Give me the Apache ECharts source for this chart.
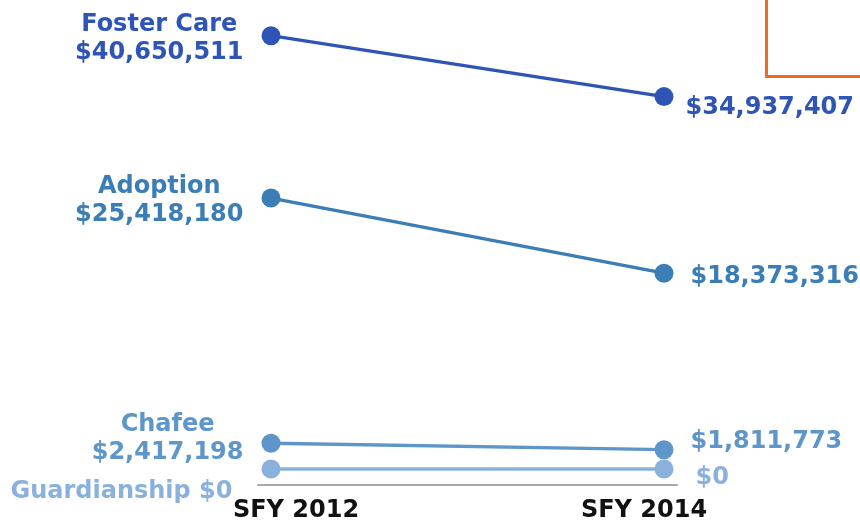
<!DOCTYPE html>
<html>
<head>
<meta charset="utf-8">
<script src="https://cdn.jsdelivr.net/npm/echarts@6/dist/echarts.min.js"></script>
<style>
html,body{margin:0;padding:0;background:#fff;}
#chart{width:860px;height:520px;}
</style>
</head>
<body>
<div id="chart"></div>
<script>
// ---- data ----
const categories = ['SFY 2012', 'SFY 2014'];
const seriesNames = ['Foster Care', 'Adoption', 'Chafee', 'Guardianship'];
const values2012 = [40650511, 25418180, 2417198, 0];
const values2014 = [34937407, 18373316, 1811773, 0];

// ---- styles ----
const colors = ['#2e54b6', '#3b7db5', '#5e96c9', '#8ab1dd'];
const FONT = '"DejaVu Sans", Verdana, sans-serif';
const FS = 24;
// per-series label tweaks [dx, dy]
const leftTweak = [[0, 3], [0, 3], [0, -4], [-11, 23]];
const rightTweak = [[0, 11], [5, 4], [5, -8], [10, 9]];

function money(v) {
  return '$' + v.toLocaleString('en-US');
}
const cv = document.createElement('canvas').getContext('2d');
cv.font = 'bold ' + FS + 'px ' + FONT;
function textW(s) {
  return Math.max.apply(null, s.split('\n').map(l => cv.measureText(l).width));
}

const series = seriesNames.map((name, i) => {
  const leftText = values2012[i] === 0 ? name + ' ' + money(values2012[i]) : name + '\n' + money(values2012[i]);
  const w = textW(leftText);
  return {
    name: name,
    type: 'line',
    symbol: 'circle',
    symbolSize: 19,
    lineStyle: { width: 3.3, color: colors[i] },
    itemStyle: { color: colors[i], borderWidth: 0 },
    emphasis: { disabled: true },
    z: 2 + i,
    label: {
      show: true,
      fontFamily: FONT,
      fontWeight: 'bold',
      fontSize: FS,
      lineHeight: 28,
      color: colors[i]
    },
    data: [
      {
        value: [0, values2012[i]],
        label: {
          position: 'left',
          distance: 18,
          align: 'center',
          offset: [-w / 2 + leftTweak[i][0], leftTweak[i][1]],
          formatter: leftText
        }
      },
      {
        value: [1, values2014[i]],
        label: {
          position: 'right',
          distance: 12,
          align: 'left',
          offset: rightTweak[i],
          formatter: money(values2014[i])
        }
      }
    ]
  };
});

const chart = echarts.init(document.getElementById('chart'), null, { renderer: 'canvas' });
chart.setOption({
  animation: false,
  backgroundColor: '#ffffff',
  grid: { left: 258, right: 183, top: 0, bottom: 35, containLabel: false },
  xAxis: [
    {
      type: 'value',
      min: -0.0331,
      max: 1.0331,
      splitLine: { show: false },
      axisTick: { show: false },
      axisLine: { show: true, onZero: false, lineStyle: { color: '#a8a8a8', width: 2 } },
      axisLabel: { show: false }
    }
  ],
  yAxis: {
    type: 'value',
    min: -1500000,
    max: 44000000,
    show: false
  },
  graphic: [
    {
      type: 'rect',
      shape: { x: 766.5, y: -10, width: 200, height: 86.5 },
      style: { fill: 'none', stroke: '#f26a21', lineWidth: 3 },
      silent: true
    },
    {
      type: 'text',
      x: 296, y: 511,
      style: { text: categories[0], fill: '#111111', font: 'bold ' + FS + 'px ' + FONT, align: 'center', verticalAlign: 'middle' },
      silent: true
    },
    {
      type: 'text',
      x: 644, y: 511,
      style: { text: categories[1], fill: '#111111', font: 'bold ' + FS + 'px ' + FONT, align: 'center', verticalAlign: 'middle' },
      silent: true
    }
  ],
  series: series
});
</script>
</body>
</html>
